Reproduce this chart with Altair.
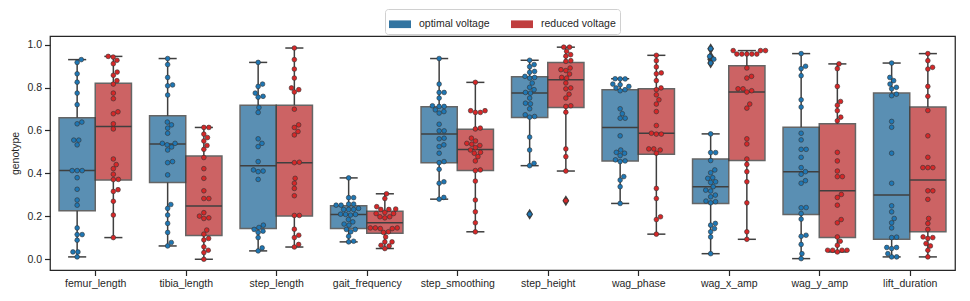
import altair as alt
import numpy as np
import pandas as pd

categories = ["femur_length", "tibia_length", "step_length", "gait_frequency",
              "step_smoothing", "step_height", "wag_phase", "wag_x_amp",
              "wag_y_amp", "lift_duration"]
groups = ["optimal voltage", "reduced voltage"]
box_colors = ["#3274a1", "#c03d3e"]
point_colors = ["#1f77b4", "#d62728"]

# ---- swarm values ----
femur_length_optimal = [0.930, 0.917, 0.864, 0.825, 0.774, 0.720, 0.639, 0.631, 0.555, 0.555, 0.533, 0.413, 0.413, 0.413, 0.380, 0.326, 0.276, 0.252, 0.146, 0.115, 0.115, 0.089, 0.034, 0.034, 0.011]
femur_length_reduced = [0.945, 0.942, 0.927, 0.911, 0.872, 0.857, 0.832, 0.816, 0.774, 0.748, 0.687, 0.678, 0.631, 0.607, 0.467, 0.441, 0.422, 0.396, 0.372, 0.371, 0.324, 0.316, 0.270, 0.206, 0.101]
tibia_length_optimal = [0.935, 0.907, 0.847, 0.812, 0.808, 0.765, 0.639, 0.626, 0.611, 0.587, 0.540, 0.540, 0.533, 0.523, 0.509, 0.455, 0.450, 0.393, 0.255, 0.237, 0.206, 0.167, 0.125, 0.078, 0.062]
tibia_length_reduced = [0.614, 0.614, 0.583, 0.567, 0.551, 0.530, 0.512, 0.474, 0.422, 0.377, 0.319, 0.283, 0.283, 0.217, 0.201, 0.193, 0.190, 0.136, 0.117, 0.097, 0.090, 0.058, 0.042, 0.031, 0.000]
step_length_optimal = [0.917, 0.816, 0.805, 0.774, 0.759, 0.755, 0.707, 0.684, 0.561, 0.540, 0.525, 0.455, 0.416, 0.411, 0.408, 0.372, 0.159, 0.148, 0.139, 0.131, 0.125, 0.101, 0.053, 0.039]
step_length_reduced = [0.984, 0.930, 0.886, 0.844, 0.798, 0.790, 0.779, 0.699, 0.626, 0.614, 0.595, 0.579, 0.452, 0.450, 0.377, 0.354, 0.330, 0.296, 0.204, 0.204, 0.140, 0.112, 0.101, 0.069, 0.057]
gait_frequency_optimal = [0.379, 0.287, 0.287, 0.257, 0.257, 0.252, 0.252, 0.237, 0.232, 0.232, 0.232, 0.210, 0.209, 0.209, 0.206, 0.185, 0.174, 0.164, 0.159, 0.139, 0.139, 0.128, 0.107, 0.084, 0.081]
gait_frequency_reduced = [0.305, 0.283, 0.245, 0.234, 0.232, 0.232, 0.218, 0.213, 0.213, 0.198, 0.198, 0.193, 0.146, 0.146, 0.146, 0.143, 0.143, 0.128, 0.125, 0.104, 0.081, 0.081, 0.065, 0.062, 0.050]
step_smoothing_optimal = [0.935, 0.816, 0.777, 0.777, 0.751, 0.715, 0.712, 0.712, 0.696, 0.688, 0.681, 0.629, 0.598, 0.598, 0.564, 0.561, 0.533, 0.525, 0.494, 0.455, 0.450, 0.419, 0.361, 0.354, 0.288, 0.280]
step_smoothing_reduced = [0.824, 0.692, 0.692, 0.684, 0.684, 0.611, 0.607, 0.564, 0.551, 0.540, 0.536, 0.530, 0.520, 0.509, 0.498, 0.494, 0.478, 0.458, 0.416, 0.413, 0.364, 0.276, 0.221, 0.170, 0.128]
step_height_optimal = [0.927, 0.907, 0.897, 0.875, 0.871, 0.852, 0.847, 0.844, 0.821, 0.801, 0.790, 0.777, 0.774, 0.751, 0.727, 0.724, 0.701, 0.673, 0.665, 0.662, 0.569, 0.509, 0.447, 0.436, 0.210]
step_height_reduced = [0.988, 0.988, 0.969, 0.953, 0.946, 0.925, 0.922, 0.891, 0.883, 0.879, 0.863, 0.847, 0.844, 0.821, 0.798, 0.794, 0.769, 0.751, 0.715, 0.712, 0.685, 0.514, 0.478, 0.411, 0.273]
wag_phase_optimal = [0.841, 0.840, 0.840, 0.816, 0.813, 0.805, 0.798, 0.790, 0.785, 0.701, 0.678, 0.657, 0.657, 0.575, 0.509, 0.498, 0.494, 0.483, 0.463, 0.458, 0.455, 0.385, 0.369, 0.338, 0.260]
wag_phase_reduced = [0.950, 0.925, 0.896, 0.868, 0.864, 0.832, 0.798, 0.790, 0.766, 0.743, 0.723, 0.688, 0.623, 0.587, 0.583, 0.583, 0.514, 0.514, 0.509, 0.494, 0.330, 0.283, 0.198, 0.185, 0.117]
wag_x_amp_optimal = [0.981, 0.945, 0.932, 0.914, 0.584, 0.497, 0.497, 0.460, 0.416, 0.403, 0.380, 0.377, 0.361, 0.358, 0.338, 0.322, 0.318, 0.299, 0.291, 0.271, 0.268, 0.263, 0.167, 0.159, 0.143, 0.128, 0.104, 0.026]
wag_x_amp_reduced = [0.972, 0.972, 0.972, 0.956, 0.956, 0.956, 0.956, 0.956, 0.891, 0.852, 0.844, 0.794, 0.794, 0.785, 0.779, 0.723, 0.704, 0.561, 0.537, 0.467, 0.442, 0.408, 0.361, 0.263, 0.128, 0.093]
wag_y_amp_optimal = [0.958, 0.899, 0.888, 0.855, 0.743, 0.709, 0.587, 0.556, 0.512, 0.512, 0.475, 0.427, 0.408, 0.396, 0.366, 0.354, 0.241, 0.240, 0.213, 0.187, 0.112, 0.107, 0.069, 0.026, 0.003]
wag_y_amp_reduced = [0.910, 0.888, 0.805, 0.735, 0.717, 0.692, 0.662, 0.645, 0.498, 0.458, 0.411, 0.385, 0.385, 0.302, 0.288, 0.252, 0.185, 0.170, 0.104, 0.084, 0.065, 0.042, 0.042, 0.042, 0.042, 0.034]
lift_duration_optimal = [0.914, 0.847, 0.832, 0.816, 0.801, 0.794, 0.769, 0.762, 0.642, 0.615, 0.494, 0.354, 0.249, 0.221, 0.190, 0.170, 0.146, 0.103, 0.101, 0.055, 0.055, 0.050, 0.026, 0.011, 0.011]
lift_duration_reduced = [0.958, 0.925, 0.894, 0.886, 0.805, 0.759, 0.693, 0.575, 0.475, 0.427, 0.427, 0.427, 0.319, 0.319, 0.279, 0.190, 0.167, 0.139, 0.104, 0.101, 0.097, 0.073, 0.062, 0.042, 0.011]

# ---- box statistics, one entry per category ----
optimal_low = [0.011, 0.062, 0.039, 0.081, 0.280, 0.436, 0.260, 0.026, 0.003, 0.011]
optimal_q1 = [0.226, 0.358, 0.143, 0.143, 0.450, 0.660, 0.458, 0.260, 0.209, 0.093]
optimal_median = [0.413, 0.537, 0.436, 0.209, 0.584, 0.774, 0.614, 0.338, 0.408, 0.299]
optimal_q3 = [0.659, 0.668, 0.717, 0.249, 0.710, 0.850, 0.790, 0.467, 0.615, 0.774]
optimal_high = [0.930, 0.935, 0.917, 0.379, 0.935, 0.927, 0.841, 0.584, 0.958, 0.914]
reduced_low = [0.101, 0.000, 0.057, 0.050, 0.128, 0.411, 0.117, 0.093, 0.034, 0.011]
reduced_q1 = [0.369, 0.111, 0.201, 0.121, 0.413, 0.707, 0.489, 0.460, 0.101, 0.128]
reduced_median = [0.619, 0.248, 0.450, 0.170, 0.511, 0.836, 0.587, 0.779, 0.319, 0.369]
reduced_q3 = [0.820, 0.481, 0.718, 0.224, 0.606, 0.917, 0.794, 0.902, 0.631, 0.709]
reduced_high = [0.945, 0.614, 0.984, 0.305, 0.824, 0.988, 0.950, 0.972, 0.910, 0.958]

optimal_series = [femur_length_optimal, tibia_length_optimal, step_length_optimal,
                  gait_frequency_optimal, step_smoothing_optimal, step_height_optimal,
                  wag_phase_optimal, wag_x_amp_optimal, wag_y_amp_optimal, lift_duration_optimal]
reduced_series = [femur_length_reduced, tibia_length_reduced, step_length_reduced,
                  gait_frequency_reduced, step_smoothing_reduced, step_height_reduced,
                  wag_phase_reduced, wag_x_amp_reduced, wag_y_amp_reduced, lift_duration_reduced]

# ---- layout constants ----
W, H = 905, 234
Y_DOMAIN = [-0.05, 1.04]
X_DOMAIN = [-0.5, 9.5]
PX_X = W / (X_DOMAIN[1] - X_DOMAIN[0])
PX_Y = H / (Y_DOMAIN[1] - Y_DOMAIN[0])
BOX_W = 0.4
DOT_D = 5.0  # swarm dot spacing in px


def swarm_offsets(values):
    ys = np.asarray(values, dtype=float) * PX_Y
    order = np.argsort(ys, kind="stable")
    placed = []
    offs = np.zeros(len(ys))
    for idx in order:
        y = ys[idx]
        neigh = [(px, py) for px, py in placed if abs(py - y) < DOT_D]
        cands = [0.0]
        for px, py in neigh:
            dx = np.sqrt(max(DOT_D ** 2 - (py - y) ** 2, 0.0))
            cands += [px + dx, px - dx]
        cands.sort(key=lambda c: (round(abs(c), 6), -c))
        chosen = cands[-1]
        for c in cands:
            if all((c - px) ** 2 + (y - py) ** 2 >= DOT_D ** 2 - 1e-6 for px, py in neigh):
                chosen = c
                break
        offs[idx] = chosen
        placed.append((chosen, y))
    return offs / PX_X


box_rows, whisk_rows, cap_rows, pt_rows, flier_rows = [], [], [], [], []
stats = {
    groups[0]: (optimal_low, optimal_q1, optimal_median, optimal_q3, optimal_high, optimal_series),
    groups[1]: (reduced_low, reduced_q1, reduced_median, reduced_q3, reduced_high, reduced_series),
}
for gi, g in enumerate(groups):
    lo, q1, med, q3, hi, series = stats[g]
    for ci, cat in enumerate(categories):
        center = ci + (gi - 0.5) * BOX_W
        x1, x2 = center - BOX_W / 2, center + BOX_W / 2
        box_rows.append(dict(group=g, x1=x1, x2=x2, q1=q1[ci], q3=q3[ci], med=med[ci]))
        whisk_rows.append(dict(xc=center, ya=lo[ci], yb=q1[ci]))
        whisk_rows.append(dict(xc=center, ya=q3[ci], yb=hi[ci]))
        cap_rows.append(dict(ca=center - BOX_W / 4, cb=center + BOX_W / 4, y=lo[ci]))
        cap_rows.append(dict(ca=center - BOX_W / 4, cb=center + BOX_W / 4, y=hi[ci]))
        vals = series[ci]
        offs = swarm_offsets(vals)
        for v, o in zip(vals, offs):
            pt_rows.append(dict(group=g, xp=center + o, v=v))
            if v > hi[ci] + 1e-9 or v < lo[ci] - 1e-9:
                flier_rows.append(dict(xf=center, v=v))

box_df = pd.DataFrame(box_rows)
whisk_df = pd.DataFrame(whisk_rows)
cap_df = pd.DataFrame(cap_rows)
pt_df = pd.DataFrame(pt_rows)
flier_df = pd.DataFrame(flier_rows)

TXT = "#262626"
LINE = "#3f3f3f"
FS = 10.5

label_expr = "[" + ",".join("'%s'" % c for c in categories) + "][round(datum.value)]"
xscale = alt.Scale(domain=X_DOMAIN, nice=False, zero=False)
yscale = alt.Scale(domain=Y_DOMAIN, nice=False, zero=False)
xaxis = alt.Axis(values=list(range(len(categories))), labelExpr=label_expr, title=None,
                 grid=False, domain=False, tickSize=5.5, tickWidth=1.2, tickColor=TXT,
                 labelFontSize=FS, labelColor=TXT, labelPadding=3, labelFont="Liberation Sans")
yaxis = alt.Axis(values=[0, 0.2, 0.4, 0.6, 0.8, 1.0], format=".1f", title="genotype",
                 grid=False, domain=False, tickSize=5.5, tickWidth=1.2, tickColor=TXT,
                 labelFontSize=FS, labelColor=TXT, labelPadding=3, titleFontSize=FS,
                 titleFontWeight="normal", titleColor=TXT, titlePadding=6,
                 labelFont="Liberation Sans", titleFont="Liberation Sans")

boxes = alt.Chart(box_df).mark_rect(stroke=LINE, strokeWidth=1.5, opacity=0.8).encode(
    x=alt.X("x1:Q", scale=xscale, axis=xaxis),
    x2="x2:Q",
    y=alt.Y("q1:Q", scale=yscale, axis=yaxis),
    y2="q3:Q",
    color=alt.Color("group:N", scale=alt.Scale(domain=groups, range=box_colors),
                    legend=alt.Legend(title=None, orient="none", direction="horizontal",
                                      legendX=335, legendY=-27,
                                      symbolType="M-1,-0.35H1V0.35H-1Z", symbolSize=484,
                                      symbolOpacity=1, symbolStrokeWidth=0,
                                      labelFontSize=FS, labelColor=TXT, labelFont="Liberation Sans",
                                      labelOffset=8, columnPadding=21, padding=4,
                                      strokeColor="#d0d0d0", fillColor="white",
                                      cornerRadius=3)),
)

whiskers = alt.Chart(whisk_df).mark_rule(color=LINE, strokeWidth=1.5).encode(
    x=alt.X("xc:Q", scale=xscale, axis=xaxis),
    y=alt.Y("ya:Q", scale=yscale, axis=yaxis),
    y2="yb:Q",
)

caps = alt.Chart(cap_df).mark_rule(color=LINE, strokeWidth=1.5).encode(
    x=alt.X("ca:Q", scale=xscale, axis=xaxis),
    x2="cb:Q",
    y=alt.Y("y:Q", scale=yscale, axis=yaxis),
)

medians = alt.Chart(box_df).mark_rule(color=LINE, strokeWidth=1.5).encode(
    x=alt.X("x1:Q", scale=xscale, axis=xaxis),
    x2="x2:Q",
    y=alt.Y("med:Q", scale=yscale, axis=yaxis),
)

fliers = alt.Chart(flier_df).mark_point(
    shape="M0,-1L0.62,0L0,1L-0.62,0Z", size=121, filled=True, color=LINE, opacity=1
).encode(
    x=alt.X("xf:Q", scale=xscale, axis=xaxis),
    y=alt.Y("v:Q", scale=yscale, axis=yaxis),
)

points = alt.Chart(pt_df).mark_circle(size=22, stroke="#333333", strokeWidth=0.6, opacity=1).encode(
    x=alt.X("xp:Q", scale=xscale, axis=xaxis),
    y=alt.Y("v:Q", scale=yscale, axis=yaxis),
    fill=alt.Fill("group:N", scale=alt.Scale(domain=groups, range=point_colors), legend=None),
)

chart = alt.layer(boxes, whiskers, caps, medians, fliers, points).properties(
    width=W, height=H,
    autosize=alt.AutoSizeParams(type="none"),
    padding={"left": 42, "top": 28, "right": 7, "bottom": 23},
).configure(font="Liberation Sans").configure_view(stroke=TXT, strokeWidth=1.25)

chart.save("out.html", embed_options={"renderer": "svg", "actions": False})
